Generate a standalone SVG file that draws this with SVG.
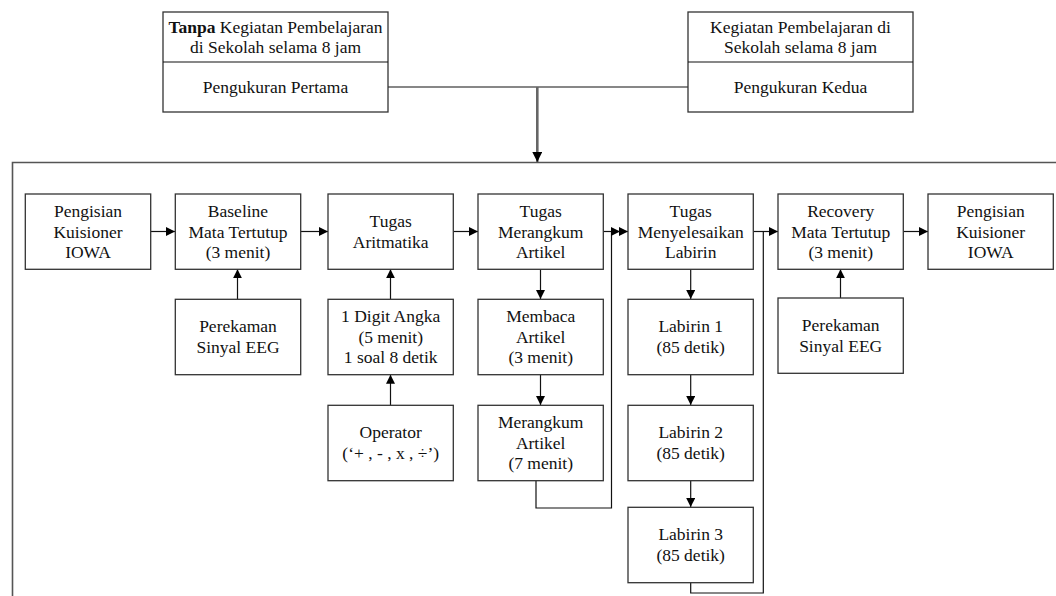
<svg xmlns="http://www.w3.org/2000/svg" width="1056" height="596" viewBox="0 0 1056 596">
<style>
.box{fill:#fff;stroke:#333;stroke-width:1.3}
.t{font-family:"Liberation Serif","Times New Roman",serif;font-size:17.5px;fill:#111;text-anchor:middle}
.c{fill:none;stroke:#111;stroke-width:1.2}
.frame{fill:none;stroke:#555;stroke-width:1.6}
</style>
<defs>
<marker id="ah" markerUnits="userSpaceOnUse" markerWidth="9" markerHeight="9" refX="9" refY="4.5" orient="auto">
<path d="M0,0 L9,4.5 L0,9 z" fill="#000"/>
</marker>
<marker id="ahb" markerUnits="userSpaceOnUse" markerWidth="10" markerHeight="10" refX="10" refY="5" orient="auto">
<path d="M0,0 L10,5 L0,10 z" fill="#000"/>
</marker>
</defs>
<rect width="1056" height="596" fill="#fff"/>
<path class="frame" d="M12.5,596 V162.5 H1056"/>
<g id="connectors">
<path class="c" d="M388,87 H688"/>
<path d="M537.3,87 V162" fill="none" stroke="#666" stroke-width="2.6" marker-end="url(#ahb)"/>
<path class="c" d="M150.7,231.5 H175" marker-end="url(#ah)"/>
<path class="c" d="M300.7,231.5 H328" marker-end="url(#ah)"/>
<path class="c" d="M453.3,231.5 H478" marker-end="url(#ah)"/>
<path class="c" d="M603.3,231.5 H628" marker-end="url(#ah)"/>
<path class="c" d="M536,480.7 V508 H611.5 V231.5 H620" marker-end="url(#ah)"/>
<path class="c" d="M753.3,231.5 H778" marker-end="url(#ah)"/>
<path class="c" d="M690.7,582.7 V593 H763.3 V231.5"/>
<path class="c" d="M903.3,231.5 H928" marker-end="url(#ah)"/>
<path class="c" d="M237.5,299 V269.3" marker-end="url(#ah)"/>
<path class="c" d="M390.5,299 V269.3" marker-end="url(#ah)"/>
<path class="c" d="M390.5,405 V374.7" marker-end="url(#ah)"/>
<path class="c" d="M540.5,269.3 V299" marker-end="url(#ah)"/>
<path class="c" d="M540.5,374.7 V405" marker-end="url(#ah)"/>
<path class="c" d="M690.7,269.3 V299" marker-end="url(#ah)"/>
<path class="c" d="M690.7,374.7 V405" marker-end="url(#ah)"/>
<path class="c" d="M690.7,480.7 V507" marker-end="url(#ah)"/>
<path class="c" d="M840.5,298 V269.3" marker-end="url(#ah)"/>
</g>
<g id="top1">
<rect class="box" x="163" y="12" width="225" height="100"/>
<path class="c" d="M163,62 H388" stroke="#333"/>
<text class="t" x="275.5" y="32.6"><tspan font-weight="bold">Tanpa</tspan> Kegiatan Pembelajaran</text>
<text class="t" x="275.5" y="53.4">di Sekolah selama 8 jam</text>
<text class="t" x="275.5" y="93">Pengukuran Pertama</text>
</g>
<g id="top2">
<rect class="box" x="688" y="12" width="225" height="100"/>
<path class="c" d="M688,62 H913" stroke="#333"/>
<text class="t" x="800.5" y="32.6">Kegiatan Pembelajaran di</text>
<text class="t" x="800.5" y="53.4">Sekolah selama 8 jam</text>
<text class="t" x="800.5" y="93">Pengukuran Kedua</text>
</g>
<g id="kuisioner1">
<rect class="box" x="25.3" y="194" width="125.4" height="75.3"/>
<text class="t" x="88" y="216.7">Pengisian</text>
<text class="t" x="88" y="237.5">Kuisioner</text>
<text class="t" x="88" y="258.3">IOWA</text>
</g>
<g id="baseline">
<rect class="box" x="175.3" y="194" width="125.4" height="75.3"/>
<text class="t" x="238" y="216.7">Baseline</text>
<text class="t" x="238" y="237.5">Mata Tertutup</text>
<text class="t" x="238" y="258.3">(3 menit)</text>
</g>
<g id="aritmatika">
<rect class="box" x="328" y="194" width="125.3" height="75.3"/>
<text class="t" x="390.7" y="227.1">Tugas</text>
<text class="t" x="390.7" y="247.9">Aritmatika</text>
</g>
<g id="merangkum">
<rect class="box" x="478" y="194" width="125.3" height="75.3"/>
<text class="t" x="540.7" y="216.7">Tugas</text>
<text class="t" x="540.7" y="237.5">Merangkum</text>
<text class="t" x="540.7" y="258.3">Artikel</text>
</g>
<g id="labirin">
<rect class="box" x="628" y="194" width="125.3" height="75.3"/>
<text class="t" x="690.7" y="216.7">Tugas</text>
<text class="t" x="690.7" y="237.5">Menyelesaikan</text>
<text class="t" x="690.7" y="258.3">Labirin</text>
</g>
<g id="recovery">
<rect class="box" x="778" y="194" width="125.3" height="75.3"/>
<text class="t" x="840.7" y="216.7">Recovery</text>
<text class="t" x="840.7" y="237.5">Mata Tertutup</text>
<text class="t" x="840.7" y="258.3">(3 menit)</text>
</g>
<g id="kuisioner2">
<rect class="box" x="928" y="194" width="125.3" height="75.3"/>
<text class="t" x="990.7" y="216.7">Pengisian</text>
<text class="t" x="990.7" y="237.5">Kuisioner</text>
<text class="t" x="990.7" y="258.3">IOWA</text>
</g>
<g id="eeg1">
<rect class="box" x="175.3" y="299.3" width="125.4" height="75.4"/>
<text class="t" x="238" y="332.4">Perekaman</text>
<text class="t" x="238" y="353.2">Sinyal EEG</text>
</g>
<g id="digit">
<rect class="box" x="328" y="299.3" width="125.3" height="75.4"/>
<text class="t" x="390.7" y="321.7">1 Digit Angka</text>
<text class="t" x="390.7" y="342.5">(5 menit)</text>
<text class="t" x="390.7" y="363.3">1 soal 8 detik</text>
</g>
<g id="membaca">
<rect class="box" x="478" y="299.3" width="125.3" height="75.4"/>
<text class="t" x="540.7" y="321.7">Membaca</text>
<text class="t" x="540.7" y="342.5">Artikel</text>
<text class="t" x="540.7" y="363.3">(3 menit)</text>
</g>
<g id="labirin1">
<rect class="box" x="628" y="299.3" width="125.3" height="75.4"/>
<text class="t" x="690.7" y="332.4">Labirin 1</text>
<text class="t" x="690.7" y="353.2">(85 detik)</text>
</g>
<g id="eeg2">
<rect class="box" x="778" y="298" width="125.3" height="75.3"/>
<text class="t" x="840.7" y="331.1">Perekaman</text>
<text class="t" x="840.7" y="351.9">Sinyal EEG</text>
</g>
<g id="operator">
<rect class="box" x="328" y="405.3" width="125.3" height="75.4"/>
<text class="t" x="390.7" y="438.4">Operator</text>
<text class="t" x="390.7" y="459.2">(‘+ , - , x , ÷’)</text>
</g>
<g id="merangkum2">
<rect class="box" x="478" y="405.3" width="125.3" height="75.4"/>
<text class="t" x="540.7" y="427.7">Merangkum</text>
<text class="t" x="540.7" y="448.5">Artikel</text>
<text class="t" x="540.7" y="469.3">(7 menit)</text>
</g>
<g id="labirin2">
<rect class="box" x="628" y="405.3" width="125.3" height="75.4"/>
<text class="t" x="690.7" y="438.4">Labirin 2</text>
<text class="t" x="690.7" y="459.2">(85 detik)</text>
</g>
<g id="labirin3">
<rect class="box" x="628" y="507.3" width="125.3" height="75.4"/>
<text class="t" x="690.7" y="540.4">Labirin 3</text>
<text class="t" x="690.7" y="561.2">(85 detik)</text>
</g>
</svg>
